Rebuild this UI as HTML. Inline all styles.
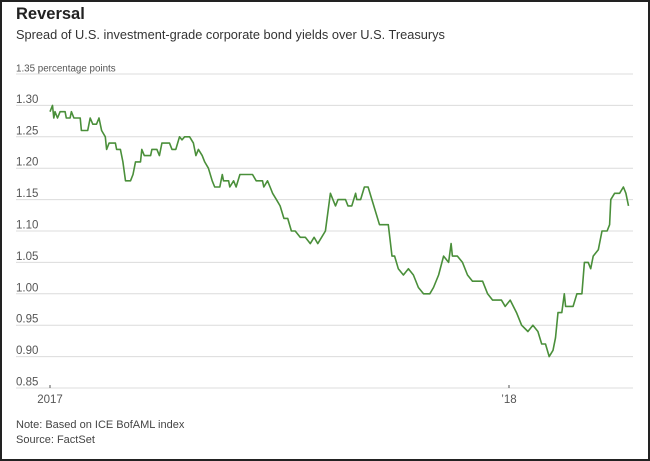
<!DOCTYPE html>
<html><head><meta charset="utf-8"><style>
body{margin:0;background:#fff}
#wrap{position:relative;width:646px;height:457px;border:2px solid #222;background:#fff;font-family:"Liberation Sans",sans-serif;overflow:hidden}
.t{position:absolute;left:14px;white-space:nowrap}
</style></head><body>
<div id="wrap">
<div class="t" style="top:3px;font-size:16.5px;font-weight:bold;color:#222">Reversal</div>
<div class="t" style="top:25px;font-size:12.8px;color:#333">Spread of U.S. investment-grade corporate bond yields over U.S. Treasurys</div>
<div class="t" style="top:417px;font-size:11px;color:#444">Note: Based on ICE BofAML index</div>
<div class="t" style="top:432px;font-size:11px;color:#444">Source: FactSet</div>
<svg id="chart" width="650" height="461" style="position:absolute;left:-2px;top:-2px"></svg>
</div>
<script>
const yTicks=[1.35,1.30,1.25,1.20,1.15,1.10,1.05,1.00,0.95,0.90,0.85];
const yLabels=["1.35 percentage points","1.30","1.25","1.20","1.15","1.10","1.05","1.00","0.95","0.90","0.85"];
const xTickDays=[0,365];
const xTickLabels=["2017","\u201918"];
const days=[0,2,3,4,6,8,12,13,16,17,19,24,25,30,32,34,37,39,41,44,45,47,52,53,56,58,60,64,66,68,72,73,75,80,81,85,87,89,95,97,100,103,105,107,111,114,116,118,121,123,126,129,131,135,137,138,142,143,146,148,151,161,164,169,170,173,175,177,180,183,186,189,192,195,199,203,207,210,213,216,219,223,225,227,229,235,237,240,243,244,247,250,253,256,262,267,269,272,274,277,281,285,289,293,297,302,305,309,313,317,319,320,324,328,332,336,344,348,352,359,362,366,371,375,380,384,388,391,394,397,400,402,404,407,409,410,416,419,423,425,428,430,432,436,439,443,445,446,449,453,456,458,460];
const values=[1.29,1.30,1.28,1.29,1.28,1.29,1.29,1.28,1.28,1.29,1.28,1.28,1.26,1.26,1.28,1.27,1.27,1.28,1.26,1.25,1.23,1.24,1.24,1.23,1.23,1.21,1.18,1.18,1.19,1.21,1.21,1.23,1.22,1.22,1.23,1.23,1.22,1.24,1.24,1.23,1.23,1.25,1.245,1.25,1.25,1.24,1.22,1.23,1.22,1.21,1.20,1.18,1.17,1.17,1.19,1.18,1.18,1.17,1.18,1.17,1.19,1.19,1.18,1.18,1.17,1.18,1.17,1.16,1.15,1.14,1.12,1.12,1.10,1.10,1.09,1.09,1.08,1.09,1.08,1.09,1.10,1.16,1.15,1.14,1.15,1.15,1.14,1.14,1.16,1.15,1.15,1.17,1.17,1.15,1.11,1.11,1.11,1.06,1.06,1.04,1.03,1.04,1.03,1.01,1.00,1.00,1.01,1.03,1.06,1.05,1.08,1.06,1.06,1.05,1.03,1.02,1.02,1.00,0.99,0.99,0.98,0.99,0.97,0.95,0.94,0.95,0.94,0.92,0.92,0.90,0.91,0.93,0.97,0.97,1.00,0.98,0.98,1.00,1.00,1.05,1.05,1.04,1.06,1.07,1.10,1.10,1.11,1.15,1.16,1.16,1.17,1.16,1.14];
const svg=document.getElementById('chart');const NS='http://www.w3.org/2000/svg';
const yS=v=>388-(v-0.85)/0.05*31.4;
const xS=d=>50+d*1.2575;
function mk(t,a){const e=document.createElementNS(NS,t);for(const k in a)e.setAttribute(k,a[k]);svg.appendChild(e);return e;}
yTicks.forEach((v,i)=>{
 const g=mk('line',{x1:16,x2:633,y1:yS(v),y2:yS(v),stroke:'#dcdcdc','stroke-width':1});
 
 
 const t=mk('text',{x:16,y:yS(v)-2.5,'font-size':i==0?'9.8':'11.5',fill:'#555','font-family':'"Liberation Sans",sans-serif'});
 t.textContent=yLabels[i];
 
 
});
xTickDays.forEach((d,i)=>{
 const l=mk('line',{x1:xS(d),x2:xS(d),y1:yS(0.85)-3,y2:yS(0.85),stroke:'#555','stroke-width':1});
 
 
 const t=mk('text',{x:xS(d),y:yS(0.85)+15,'font-size':'11.5',fill:'#555','text-anchor':'middle','font-family':'"Liberation Sans",sans-serif'});
 t.textContent=xTickLabels[i];
 
 
});
let dstr='';days.forEach((d,i)=>{dstr+=(i?'L':'M')+xS(d).toFixed(1)+','+yS(values[i]).toFixed(1);});
const p=mk('path',{d:dstr,fill:'none',stroke:'#4a8f3a','stroke-width':1.6,'stroke-linejoin':'round'});


</script>
</body></html>
